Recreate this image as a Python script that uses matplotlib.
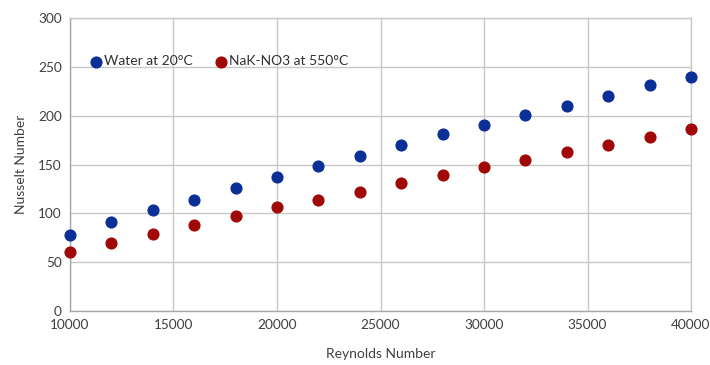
import matplotlib
matplotlib.use("Agg")
import matplotlib.pyplot as plt

# Reynolds number on x, Nusselt number on y
reynolds = [10000, 12000, 14000, 16000, 18000, 20000, 22000, 24000,
            26000, 28000, 30000, 32000, 34000, 36000, 38000, 40000]
nu_water = [78, 91, 103, 114, 126, 137, 148, 159,
            170, 181, 190, 201, 210, 220, 231, 240]
nu_nak = [60, 70, 79, 88, 97, 106, 114, 122,
          131, 139, 147, 155, 163, 170, 178, 186]

x_ticks = [10000, 15000, 20000, 25000, 30000, 35000, 40000]
y_ticks = [0, 50, 100, 150, 200, 250, 300]

plt.rcParams["font.family"] = ["Lato", "DejaVu Sans"]

fig = plt.figure(figsize=(7.1, 3.65), dpi=100)
ax = fig.add_axes([70 / 710, 1 - 311 / 365, 621 / 710, 293 / 365])

grid_col = "#c8c8c8"
ax.scatter(reynolds, nu_water, s=60, color="#0a2f96", zorder=3,
           clip_on=False, label="Water at 20\u00b0C")
ax.scatter(reynolds, nu_nak, s=60, color="#a00808", zorder=3,
           clip_on=False, label="NaK-NO3 at 550\u00b0C")

ax.set_xlim(10000, 40000)
ax.set_ylim(0, 300)
ax.set_xticks(x_ticks)
ax.set_yticks(y_ticks)
ax.grid(True, color=grid_col, lw=1.0, zorder=0)
ax.set_axisbelow(True)
for s in ax.spines.values():
    s.set_color(grid_col)
    s.set_linewidth(1.0)
ax.spines["left"].set_color("#a8a8a8")
ax.spines["bottom"].set_color("#a8a8a8")
ax.tick_params(length=0, labelsize=9.8, colors="#404040", pad=6)

ax.set_xlabel("Reynolds Number", fontsize=10, color="#404040", labelpad=12)
ax.set_ylabel("Nusselt Number", fontsize=10, color="#404040", labelpad=8)

ax.legend(loc="upper left", bbox_to_anchor=(0.01, 0.915), ncol=2,
          frameon=False, fontsize=10, handlelength=1.0, handletextpad=0.1,
          columnspacing=1.5, markerscale=1.0, labelcolor="#303030")

fig.savefig("out.png", dpi=100)
